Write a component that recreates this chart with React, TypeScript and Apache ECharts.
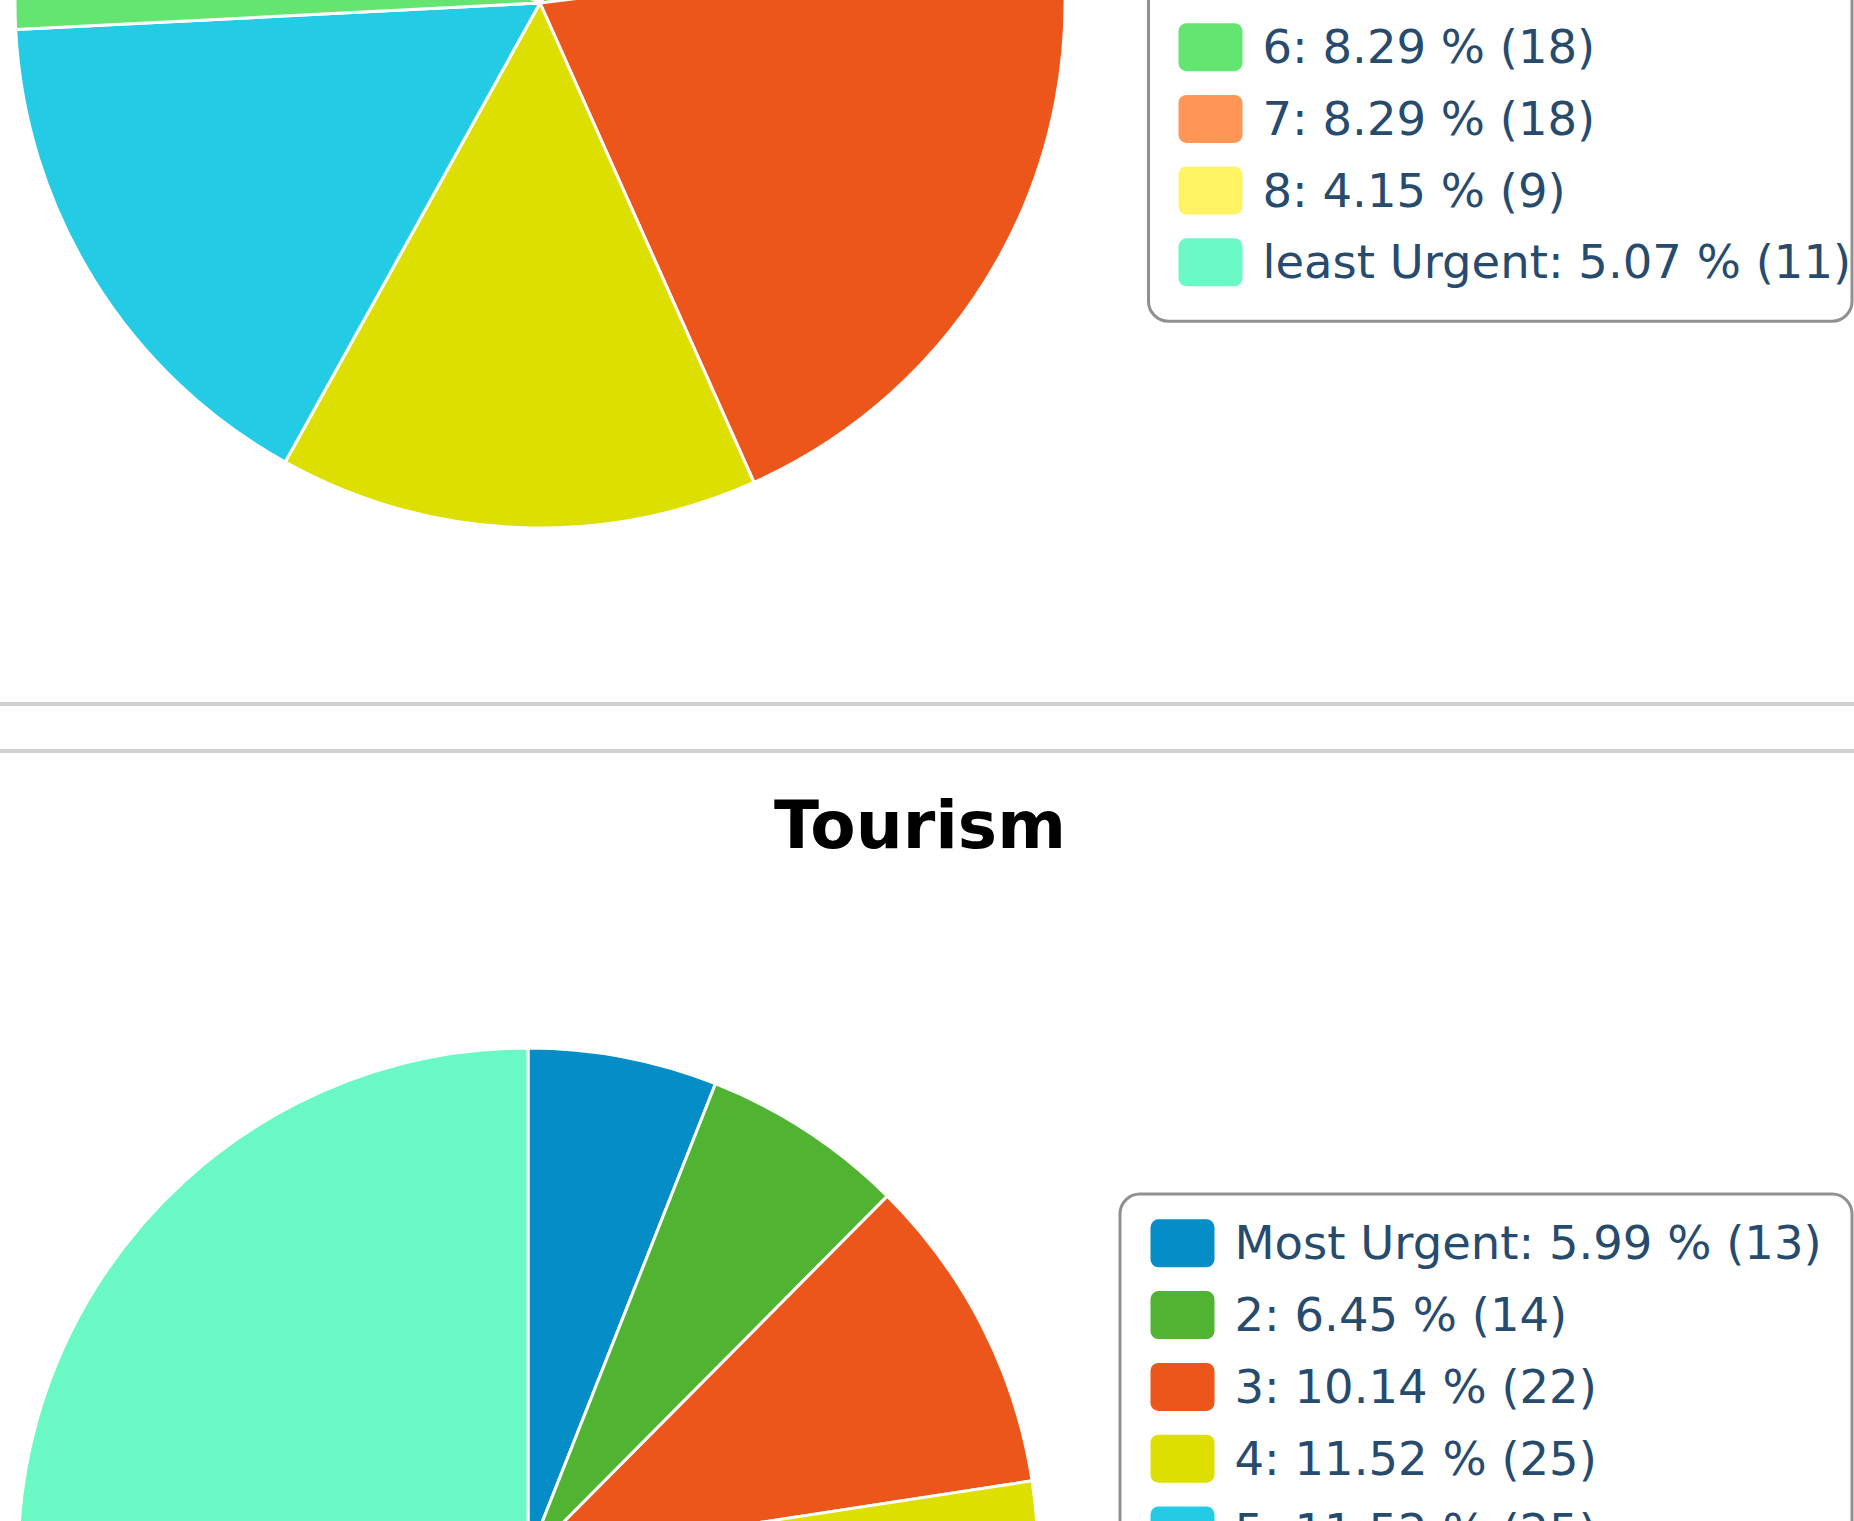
import React, { useEffect, useRef } from 'react';
import * as echarts from 'echarts';

// ---- data ----
const categories = ['Most Urgent', '2', '3', '4', '5', '6', '7', '8', 'least Urgent'];
const sliceColors = ['#058DC7', '#50B432', '#ED561B', '#DDDF00', '#24CBE5', '#64E572', '#FF9655', '#FFF263', '#6AF9C4'];
const upperValues = [24, 26, 44, 32, 35, 18, 18, 9, 11];
const tourismValues = [13, 14, 22, 25, 25, 17, 18, 13, 70];
const tourismTitle = 'Tourism';

const FONT = '"DejaVu Sans", Verdana, sans-serif';
const LEGEND_ICON = 'path://M8,0H56A8,8,0,0,1,64,8V40A8,8,0,0,1,56,48H8A8,8,0,0,1,0,40V8A8,8,0,0,1,8,0Z';

const sum = (a: number[]) => a.reduce((s, v) => s + v, 0);
const fmt = (vals: number[]) => (name: string) => {
  const i = categories.indexOf(name);
  const v = vals[i];
  return `${name}: ${((v / sum(vals)) * 100).toFixed(2)} % (${v})`;
};

const pieData = (vals: number[]) =>
  categories.map((name, i) => ({ name, value: vals[i], itemStyle: { color: sliceColors[i] } }));

const pieSeries = (name: string, vals: number[], center: number[], radius: number) => ({
  type: 'pie',
  name,
  center,
  radius,
  startAngle: 90,
  clockwise: true,
  silent: true,
  label: { show: false },
  labelLine: { show: false },
  emphasis: { disabled: true },
  itemStyle: { borderColor: '#ffffff', borderWidth: 3 },
  data: pieData(vals),
});

const legendBase = {
  orient: 'vertical',
  padding: 0,
  itemWidth: 64,
  itemHeight: 48,
  icon: LEGEND_ICON,
  selectedMode: false,
  height: 720,
  itemStyle: { borderWidth: 0 },
  textStyle: {
    fontFamily: FONT,
    fontSize: 46.5,
    lineHeight: 42,
    color: '#274b6d',
    padding: [6, 0, 0, 15],
  },
  data: categories,
};

export default function App() {
  const ref = useRef<HTMLDivElement>(null);
  useEffect(() => {
    if (!ref.current) return;
    const chart = echarts.init(ref.current, undefined, { renderer: 'svg' });
    chart.setOption({
      animation: false,
      backgroundColor: '#ffffff',
      legend: [
        { ...legendBase, left: 1178.5, top: -335.3, itemGap: 23.7, formatter: fmt(upperValues) },
        { ...legendBase, left: 1150.5, top: 1219.3, itemGap: 23.8, formatter: fmt(tourismValues) },
      ],
      series: [
        pieSeries('Upper', upperValues, [540, 3], 525),
        pieSeries(tourismTitle, tourismValues, [528, 1558], 510),
      ],
      graphic: [
        {
          type: 'rect',
          silent: true,
          shape: { x: 1148.5, y: -360.6, width: 703.5, height: 681.8, r: 20 },
          style: { fill: 'none', stroke: '#909090', lineWidth: 3 },
        },
        {
          type: 'rect',
          silent: true,
          shape: { x: 1120, y: 1194, width: 732, height: 682, r: 20 },
          style: { fill: 'none', stroke: '#909090', lineWidth: 3 },
        },
        {
          type: 'rect',
          silent: true,
          shape: { x: 0, y: 702, width: 1854, height: 4 },
          style: { fill: '#d0d0d0' },
        },
        {
          type: 'rect',
          silent: true,
          shape: { x: 0, y: 749, width: 1854, height: 4 },
          style: { fill: '#d0d0d0' },
        },
        {
          type: 'text',
          silent: true,
          x: 920,
          y: 825,
          style: {
            text: tourismTitle,
            font: `bold 66px ${FONT}`,
            fill: '#000000',
            align: 'center',
            verticalAlign: 'middle',
          },
        },
      ],
    });
    return () => chart.dispose();
  }, []);
  return (
    <div
      style={{
        position: 'fixed',
        left: 0,
        top: 0,
        width: 1854,
        height: 1521,
        overflow: 'hidden',
        background: '#ffffff',
      }}
    >
      <div ref={ref} style={{ width: 1854, height: 1521 }} />
    </div>
  );
}
